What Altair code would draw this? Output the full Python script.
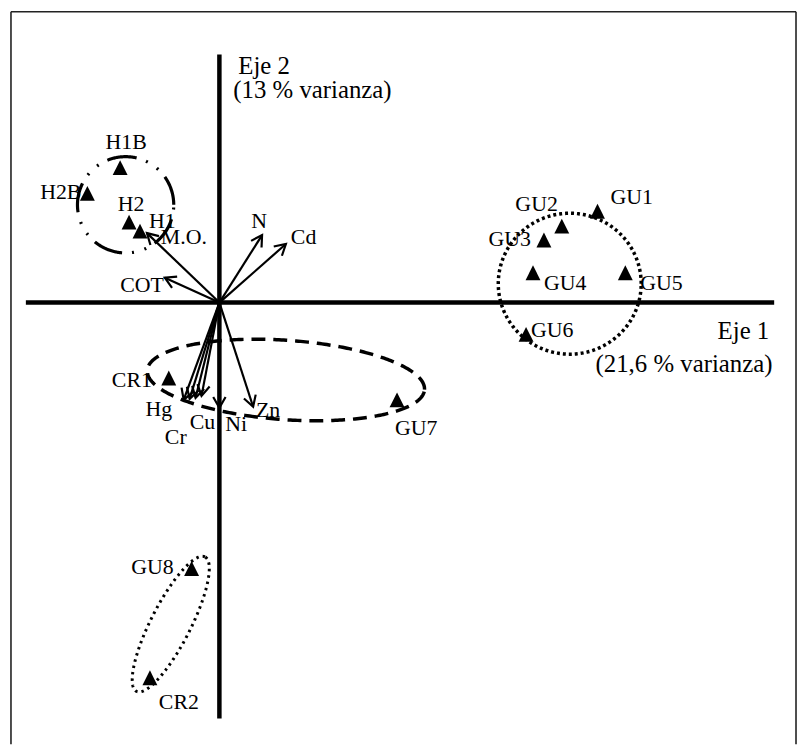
import altair as alt
import pandas as pd
import numpy as np

# ---------------- data ----------------
obs_names = ["H1B", "H2B", "H2", "H1", "GU1", "GU2", "GU3", "GU4", "GU5",
             "GU6", "GU7", "CR1", "GU8", "CR2"]
obs_eje1 = [-1.00, -1.33, -0.91, -0.80, 3.81, 3.45, 3.27, 3.16, 4.09,
            3.09, 1.79, -0.51, -0.28, -0.70]
obs_eje2 = [1.36, 1.10, 0.81, 0.72, 0.92, 0.77, 0.63, 0.30, 0.30,
            -0.32, -0.98, -0.76, -2.68, -3.78]

var_names = ["M.O.", "COT", "N", "Cd", "Hg", "Cr", "", "Cu", "Ni", "Zn"]
var_eje1 = [-0.73, -0.55, 0.43, 0.67, -0.36, -0.30, -0.24, -0.18, 0.00, 0.34]
var_eje2 = [0.70, 0.25, 0.68, 0.59, -0.98, -0.97, -0.96, -0.94, -1.06, -1.05]

axis_titles = ["Eje 2", "(13 % varianza)", "Eje 1", "(21,6 % varianza)"]
axis_title_x = [0.19, 0.14, 5.02, 3.79]
axis_title_y = [2.30, 2.06, -0.37, -0.70]

# group ellipses (centre, semi-axes, rotation in degrees)
ell_cx = [-0.945, 3.53, 0.67, -0.49]
ell_cy = [0.985, 0.19, -0.78, -3.24]
ell_a = [0.485, 0.72, 1.40, 0.76]
ell_b = [0.485, 0.71, 0.40, 0.20]
ell_rot = [0.0, 0.0, -4.0, 63.0]

# axis lines of the biplot
axis_x1 = [-1.95, 0.0]
axis_x2 = [5.59, 0.0]
axis_y1 = [0.0, 2.50]
axis_y2 = [0.0, -4.19]

# ---------------- styles ----------------
FONT = "Liberation Serif"
ell_dash = [[30, 10, 2, 11, 2, 10], [3, 3], [14, 8], [2.5, 4]]
ell_width = [3.2, 3.5, 3.5, 3.0]

# label offsets in pixels (dx, dy, align)
obs_lab = {"H1B": (6, -19, "center"), "H2B": (-6, 6, "right"), "H2": (2, -11, "center"),
           "H1": (9, -3, "left"), "GU1": (13, -7, "left"), "GU2": (-4, -15, "right"),
           "GU3": (-13, 6, "right"), "GU4": (11, 17, "left"), "GU5": (15, 17, "left"),
           "GU6": (5, 3, "left"), "GU7": (-2, 35, "left"), "CR1": (-17, 9, "right"),
           "GU8": (-18, 5, "right"), "CR2": (9, 32, "left")}
var_lab = {"M.O.": (14, 11, "left"), "COT": (-1, 14, "right"), "N": (-3, -7, "center"),
           "Cd": (5, 0, "left"), "Hg": (-25, 16, "center"), "Cr": (-14, 46, "center"),
           "": (0, 0, "center"), "Cu": (1, 33, "center"), "Ni": (17, 23, "center"),
           "Zn": (15, 10, "center")}

XDOM = [-2.13, 5.82]
YDOM = [-4.45, 2.94]
W, H = 795, 739
PX = W / (XDOM[1] - XDOM[0])


def X(f):
    return alt.X(f"{f}:Q", scale=alt.Scale(domain=XDOM, nice=False, zero=False), axis=None)


def Y(f):
    return alt.Y(f"{f}:Q", scale=alt.Scale(domain=YDOM, nice=False, zero=False), axis=None)


obs = pd.DataFrame({"name": obs_names, "x": obs_eje1, "y": obs_eje2})
var = pd.DataFrame({"name": var_names, "x": var_eje1, "y": var_eje2})
var["x0"] = 0.0
var["y0"] = 0.0
var["ang"] = np.degrees(np.arctan2(var["x"], var["y"])) % 360

rows = []
for n, x, y in zip(obs_names, obs_eje1, obs_eje2):
    dx, dy, al = obs_lab[n]
    rows.append(dict(text=n, x=x + dx / PX, y=y - dy / PX, align=al, size=22))
for n, x, y in zip(var_names, var_eje1, var_eje2):
    if not n:
        continue
    dx, dy, al = var_lab[n]
    rows.append(dict(text=n, x=x + dx / PX, y=y - dy / PX, align=al, size=22))
for t, x, y in zip(axis_titles, axis_title_x, axis_title_y):
    rows.append(dict(text=t, x=x, y=y, align="left", size=25))
labels = pd.DataFrame(rows)

axes = pd.DataFrame({"x": axis_x1, "x2": axis_x2, "y": axis_y1, "y2": axis_y2})

layers = []

# frame (decorative, in pixels)
frame = pd.DataFrame({"fx": [3, 3, 794], "fx2": [794, 3, 794],
                      "fy": [1, 1, 1], "fy2": [1, 739, 739]})
layers.append(alt.Chart(frame).mark_rule(color="#222222", strokeWidth=1.6).encode(
    x=alt.X("fx:Q", scale=None), x2="fx2:Q",
    y=alt.Y("fy:Q", scale=None), y2="fy2:Q"))

# biplot axes
layers.append(alt.Chart(axes).mark_rule(color="black", strokeWidth=4.5).encode(
    x=X("x"), x2="x2:Q", y=Y("y"), y2="y2:Q"))

# ellipses
t = np.linspace(0, 2 * np.pi, 361)
for i in range(len(ell_cx)):
    th = np.radians(ell_rot[i])
    ex = ell_cx[i] + ell_a[i] * np.cos(t) * np.cos(th) - ell_b[i] * np.sin(t) * np.sin(th)
    ey = ell_cy[i] + ell_a[i] * np.cos(t) * np.sin(th) + ell_b[i] * np.sin(t) * np.cos(th)
    edf = pd.DataFrame({"x": ex, "y": ey, "o": np.arange(len(t))})
    layers.append(alt.Chart(edf).mark_line(
        color="black", strokeWidth=ell_width[i], strokeDash=ell_dash[i]).encode(
        x=X("x"), y=Y("y"), order="o:Q"))

# arrows
layers.append(alt.Chart(var).mark_rule(color="black", strokeWidth=2.2).encode(
    x=X("x0"), x2="x:Q", y=Y("y0"), y2="y:Q"))
layers.append(alt.Chart(var).mark_point(
    shape="M-0.5,0.87L0,0L0.5,0.87", filled=False, stroke="black",
    strokeWidth=2.2, size=620, opacity=1).encode(
    x=X("x"), y=Y("y"), angle=alt.Angle("ang:Q", scale=None)))

# observations
layers.append(alt.Chart(obs).mark_point(
    shape="M0,-1L1,1L-1,1Z", filled=True, color="black", size=225, opacity=1).encode(
    x=X("x"), y=Y("y")))

# labels
for al in ["left", "center", "right"]:
    layers.append(alt.Chart(labels).transform_filter(
        alt.datum.align == al).mark_text(
        font=FONT, align=al, baseline="alphabetic", color="black").encode(
        x=X("x"), y=Y("y"), text="text:N",
        size=alt.Size("size:Q", scale=None, legend=None)))

chart = alt.layer(*layers).properties(
    width=W, height=H, padding=0, autosize="none"
).configure_view(stroke=None)

chart.save("out.html", embed_options={"renderer": "svg", "actions": False})
